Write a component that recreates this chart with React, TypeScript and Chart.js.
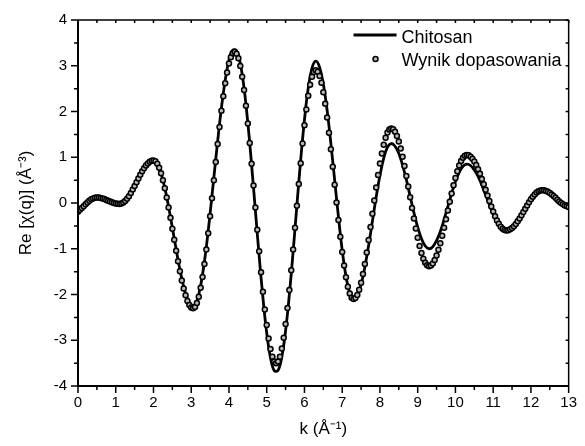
import React, { useEffect, useRef } from "react";
import { Chart, registerables } from "chart.js";

Chart.register(...registerables);

// Sampling grids (k in Å^-1)
const K_LINE_START = 0;
const K_LINE_STEP = 0.1;
const K_FIT_START = 0;
const K_FIT_STEP = 0.05;

// Chitosan (experimental), sampled every 0.1 Å^-1 from 0 to 13
const chitosan: number[] = [
  -0.17, -0.09, -0.01, 0.06, 0.10, 0.12, 0.11, 0.09, 0.055, 0.02,
  0.0, -0.01, 0.02, 0.10, 0.225, 0.38, 0.54, 0.695, 0.82, 0.90,
  0.93, 0.86, 0.65, 0.33, -0.08, -0.54, -1.01, -1.455, -1.83, -2.09,
  -2.23, -2.22, -2.00, -1.56, -0.96, -0.23, 0.56, 1.35, 2.08, 2.68,
  3.12, 3.34, 3.33, 3.05, 2.51, 1.75, 0.83, -0.165, -1.16, -2.07,
  -2.84, -3.38, -3.665, -3.66, -3.36, -2.79, -2.0, -1.06, -0.045, 0.94,
  1.82, 2.51, 2.95, 3.1, 2.97, 2.60, 2.03, 1.30, 0.50, -0.30,
  -1.03, -1.60, -1.97, -2.1, -2.02, -1.78, -1.40, -0.93, -0.40, 0.13,
  0.60, 0.98, 1.22, 1.3, 1.24, 1.08, 0.83, 0.51, 0.15, -0.21,
  -0.53, -0.78, -0.94, -1.0, -0.955, -0.82, -0.62, -0.36, -0.075, 0.21,
  0.47, 0.67, 0.80, 0.85, 0.82, 0.72, 0.58, 0.39, 0.18, -0.04,
  -0.24, -0.41, -0.53, -0.59, -0.594, -0.548, -0.46, -0.34, -0.20, -0.06,
  0.07, 0.18, 0.25, 0.27, 0.25, 0.20, 0.13, 0.06, 0.0, -0.05,
  -0.09,
];

// Wynik dopasowania (fit), sampled every 0.05 Å^-1 from 0 to 13
const fit: number[] = [
  -0.19, -0.15, -0.11, -0.07, -0.03, 0.01, 0.05, 0.08, 0.10, 0.115,
  0.12, 0.118, 0.11, 0.10, 0.085, 0.068, 0.05, 0.032, 0.015, 0.0,
  -0.01, -0.018, -0.02, -0.013, 0.009, 0.044, 0.091, 0.15, 0.218, 0.293,
  0.372, 0.455, 0.538, 0.617, 0.693, 0.76, 0.819, 0.866, 0.902, 0.922,
  0.93, 0.912, 0.858, 0.77, 0.649, 0.499, 0.323, 0.1225, -0.096, -0.325,
  -0.564, -0.806, -1.045, -1.274, -1.4925, -1.693, -1.869, -2.019, -2.14, -2.228,
  -2.282, -2.3, -2.271, -2.186, -2.047, -1.855, -1.616, -1.333, -1.014, -0.663,
  -0.288, 0.102, 0.5, 0.898, 1.288, 1.663, 2.014, 2.333, 2.616, 2.855,
  3.047, 3.186, 3.271, 3.3, 3.265, 3.162, 2.993, 2.76, 2.469, 2.126,
  1.738, 1.312, 0.857, 0.383, -0.1, -0.583, -1.057, -1.512, -1.938, -2.326,
  -2.669, -2.96, -3.193, -3.362, -3.465, -3.5, -3.464, -3.358, -3.183, -2.943,
  -2.646, -2.297, -1.9, -1.468, -1.014, -0.54, -0.06, 0.414, 0.868, 1.3,
  1.697, 2.046, 2.343, 2.583, 2.758, 2.864, 2.9, 2.869, 2.778, 2.628,
  2.423, 2.168, 1.87, 1.535, 1.173, 0.791, 0.4, 0.009, -0.373, -0.735,
  -1.07, -1.368, -1.623, -1.828, -1.978, -2.069, -2.1, -2.077, -2.009, -1.897,
  -1.744, -1.554, -1.331, -1.082, -0.811, -0.527, -0.235, 0.057, 0.341, 0.612,
  0.861, 1.084, 1.274, 1.427, 1.539, 1.607, 1.63, 1.611, 1.556, 1.466,
  1.343, 1.189, 1.01, 0.808, 0.59, 0.36, 0.125, -0.11, -0.34, -0.558,
  -0.76, -0.939, -1.093, -1.216, -1.306, -1.361, -1.38, -1.365, -1.32, -1.248,
  -1.148, -1.024, -0.879, -0.717, -0.54, -0.355, -0.165, 0.025, 0.21, 0.387,
  0.549, 0.694, 0.818, 0.918, 0.99, 1.035, 1.05, 1.041, 1.013, 0.968,
  0.906, 0.83, 0.74, 0.638, 0.526, 0.409, 0.287, 0.163, 0.041, -0.076,
  -0.188, -0.29, -0.38, -0.456, -0.518, -0.563, -0.591, -0.6, -0.594, -0.576,
  -0.547, -0.507, -0.458, -0.401, -0.337, -0.268, -0.196, -0.124, -0.052, 0.017,
  0.081, 0.138, 0.187, 0.227, 0.256, 0.274, 0.28, 0.276, 0.265, 0.246,
  0.22, 0.188, 0.152, 0.113, 0.073, 0.035, 0.0, -0.03, -0.055, -0.072,
  -0.085,
];

const X_MIN = 0;
const X_MAX = 13;
const Y_MIN = -4;
const Y_MAX = 4;
const xTickValues = [0, 1, 2, 3, 4, 5, 6, 7, 8, 9, 10, 11, 12, 13];
const yTickValues = [-4, -3, -2, -1, 0, 1, 2, 3, 4];

const seriesNames = ["Chitosan", "Wynik dopasowania"];
const xTitle = "k (Å⁻¹)";
const yTitle = "Re [χ(q)] (Å⁻³)";

const FONT = "'Liberation Sans', Arial, Helvetica, sans-serif";
const DOT_FILL = "#b8b8b8";

const toXY = (vals: number[], start: number, step: number) =>
  vals.map((v, i) => ({ x: +(start + i * step).toFixed(3), y: v }));

const framePlugin = {
  id: "originFrame",
  afterDatasetsDraw(chart: any) {
    const { ctx, chartArea, scales } = chart;
    const { left, right, top, bottom } = chartArea;
    const xs = scales.x;
    const ys = scales.y;
    ctx.save();
    ctx.strokeStyle = "#000";
    ctx.lineCap = "butt";
    // frame
    ctx.lineWidth = 1.5;
    ctx.beginPath();
    ctx.moveTo(left, top);
    ctx.lineTo(right, top);
    ctx.moveTo(right, top);
    ctx.lineTo(right, bottom);
    ctx.stroke();
    ctx.lineWidth = 2;
    ctx.beginPath();
    ctx.moveTo(left, top);
    ctx.lineTo(left, bottom);
    ctx.lineTo(right, bottom);
    ctx.stroke();
    // x ticks (major + minor)
    ctx.lineWidth = 1.5;
    for (let i = 0; i < xTickValues.length; i++) {
      const v = xTickValues[i];
      const px = xs.getPixelForValue(v);
      ctx.beginPath();
      ctx.moveTo(px, bottom);
      ctx.lineTo(px, bottom + 7);
      ctx.moveTo(px, top);
      ctx.lineTo(px, top + 3);
      ctx.stroke();
      if (i < xTickValues.length - 1) {
        const mv = (v + xTickValues[i + 1]) / 2;
        const mpx = xs.getPixelForValue(mv);
        ctx.beginPath();
        ctx.moveTo(mpx, bottom);
        ctx.lineTo(mpx, bottom + 4);
        ctx.moveTo(mpx, top);
        ctx.lineTo(mpx, top + 3);
        ctx.stroke();
      }
    }
    // y ticks
    for (let i = 0; i < yTickValues.length; i++) {
      const v = yTickValues[i];
      const py = ys.getPixelForValue(v);
      ctx.beginPath();
      ctx.moveTo(left, py);
      ctx.lineTo(left - 7, py);
      ctx.moveTo(right, py);
      ctx.lineTo(right - 3, py);
      ctx.stroke();
      if (i < yTickValues.length - 1) {
        const mv = (v + yTickValues[i + 1]) / 2;
        const mpy = ys.getPixelForValue(mv);
        ctx.beginPath();
        ctx.moveTo(left, mpy);
        ctx.lineTo(left - 4, mpy);
        ctx.moveTo(right, mpy);
        ctx.lineTo(right - 3, mpy);
        ctx.stroke();
      }
    }
    // legend
    const lx = xs.getPixelForValue(7.3);
    ctx.lineWidth = 2.8;
    ctx.beginPath();
    ctx.moveTo(lx, top + 15);
    ctx.lineTo(lx + 43, top + 15);
    ctx.stroke();
    ctx.fillStyle = DOT_FILL;
    ctx.lineWidth = 1.5;
    ctx.beginPath();
    ctx.arc(lx + 22, top + 39, 2.5, 0, Math.PI * 2);
    ctx.fill();
    ctx.stroke();
    ctx.fillStyle = "#000";
    ctx.font = `18px ${FONT}`;
    ctx.textBaseline = "alphabetic";
    ctx.textAlign = "left";
    ctx.fillText(seriesNames[0], lx + 48, top + 23);
    ctx.fillText(seriesNames[1], lx + 48, top + 46);
    ctx.restore();
  },
};

export default function App() {
  const canvasRef = useRef<HTMLCanvasElement | null>(null);

  useEffect(() => {
    document.body.style.margin = "0";
    const canvas = canvasRef.current;
    if (!canvas) return;
    const chart = new Chart(canvas, {
      type: "line",
      data: {
        datasets: [
          {
            label: seriesNames[0],
            data: toXY(chitosan, K_LINE_START, K_LINE_STEP),
            borderColor: "#000",
            borderWidth: 2.8,
            pointRadius: 0,
            tension: 0.4,
            fill: false,
            order: 1,
          },
          {
            label: seriesNames[1],
            data: toXY(fit, K_FIT_START, K_FIT_STEP),
            showLine: false,
            borderColor: "#000",
            backgroundColor: DOT_FILL,
            pointRadius: 2.5,
            pointBorderWidth: 1.5,
            pointBorderColor: "#000",
            pointBackgroundColor: DOT_FILL,
            order: 0,
          },
        ],
      },
      options: {
        responsive: false,
        animation: false,
        events: [],
        layout: { padding: { left: 0, right: 10, top: 20, bottom: 0 } },
        plugins: {
          legend: { display: false },
          tooltip: { enabled: false },
        },
        scales: {
          x: {
            type: "linear",
            min: X_MIN,
            max: X_MAX,
            afterBuildTicks: (scale: any) => {
              scale.ticks = xTickValues.map((v) => ({ value: v }));
            },
            afterFit: (scale: any) => {
              scale.height = 60;
            },
            grid: { display: false, drawTicks: false },
            border: { display: false },
            ticks: {
              padding: 8,
              color: "#000",
              font: { family: FONT, size: 15 },
              maxRotation: 0,
              autoSkip: false,
            },
            title: {
              display: true,
              text: xTitle,
              color: "#000",
              font: { family: FONT, size: 17 },
              padding: { top: 0, bottom: 6 },
            },
          },
          y: {
            type: "linear",
            min: Y_MIN,
            max: Y_MAX,
            afterBuildTicks: (scale: any) => {
              scale.ticks = yTickValues.map((v) => ({ value: v }));
            },
            afterFit: (scale: any) => {
              scale.width = 78;
            },
            grid: { display: false, drawTicks: false },
            border: { display: false },
            ticks: {
              padding: 11,
              color: "#000",
              font: { family: FONT, size: 15 },
              autoSkip: false,
            },
            title: {
              display: true,
              text: yTitle,
              color: "#000",
              font: { family: FONT, size: 17 },
              padding: { top: 16, bottom: 0 },
            },
          },
        },
      },
      plugins: [framePlugin],
    });
    return () => chart.destroy();
  }, []);

  return (
    <div style={{ width: 585, height: 446, background: "#fff" }}>
      <canvas ref={canvasRef} width={585} height={446} />
    </div>
  );
}
